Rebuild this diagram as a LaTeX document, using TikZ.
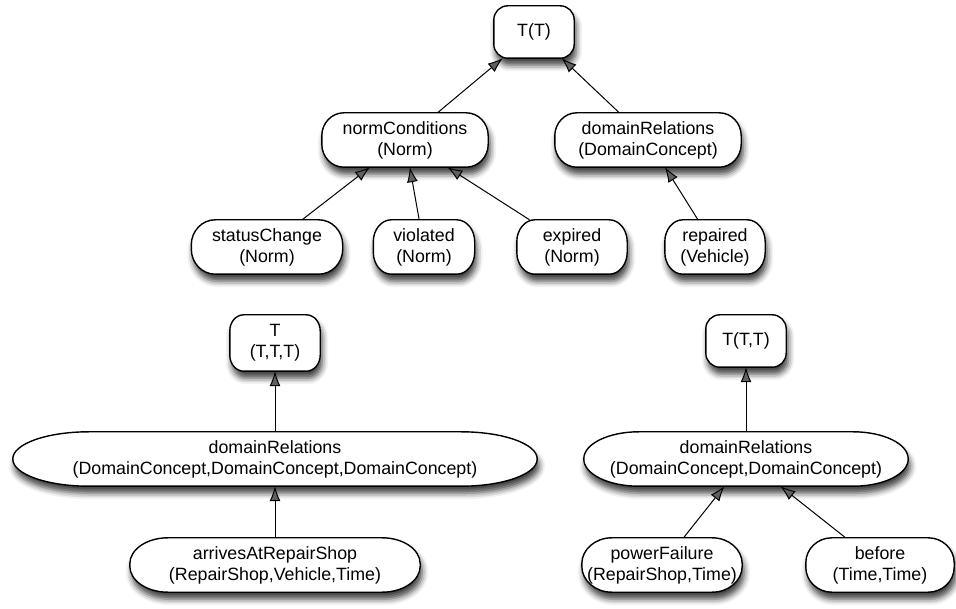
\documentclass[tikz,border=0pt]{standalone}
\usepackage{fontspec}
\setmainfont{Liberation Sans}
\usetikzlibrary{calc,arrows.meta,shadows.blur}
\pgfdeclarelayer{background}
\pgfsetlayers{background,main}
\tikzset{
  term/.style={align=center,inner sep=0pt,minimum height=54pt,
    font=\fontsize{17.8}{21}\selectfont},
  boxline/.style={draw=black,line width=1.4pt,fill=white,
    blur shadow={shadow xshift=2pt,shadow yshift=-7pt,shadow blur radius=6pt,shadow opacity=75}},
  isa/.style={-{Latex[length=15pt,width=11pt]},line width=1pt},
}
% outline with elliptic corners: node, x radius, y radius
\newcommand\drawterm[3]{%
  \path[boxline] ($(#1.north west)+(#2pt,0)$) -- ($(#1.north east)+(-#2pt,0)$)
    arc[start angle=90,end angle=0,x radius=#2pt,y radius=#3pt]
    -- ($(#1.south east)+(0,#3pt)$)
    arc[start angle=0,end angle=-90,x radius=#2pt,y radius=#3pt]
    -- ($(#1.south west)+(#2pt,0)$)
    arc[start angle=270,end angle=180,x radius=#2pt,y radius=#3pt]
    -- ($(#1.north west)+(0,-#3pt)$)
    arc[start angle=180,end angle=90,x radius=#2pt,y radius=#3pt] -- cycle;}

\begin{document}
\begin{tikzpicture}[x=1pt,y=1pt]
\useasboundingbox (0,0) rectangle (956,608);
% upper tree
\node[term,minimum width=80pt,minimum height=52pt] (tt) at (534,576) {T(T)};
\node[term,minimum width=166pt] (normC) at (405,468) {normConditions\\(Norm)};
\node[term,minimum width=186pt] (domR) at (648,468) {domainRelations\\(DomainConcept)};
\node[term,minimum width=151pt] (statusC) at (267,361) {statusChange\\(Norm)};
\node[term,minimum width=101pt] (violated) at (424,361) {violated\\(Norm)};
\node[term,minimum width=110pt] (expired) at (572,361) {expired\\(Norm)};
\node[term,minimum width=100pt] (repaired) at (715,361) {repaired\\(Vehicle)};
% lower left tree
\node[term,minimum width=90pt,minimum height=56pt] (ttt) at (275,265) {T\\(T,T,T)};
\node[term,minimum width=524pt] (bigDR) at (275,149) {domainRelations\\(DomainConcept,DomainConcept,DomainConcept)};
\node[term,minimum width=290pt] (arrives) at (275,43) {arrivesAtRepairShop\\(RepairShop,Vehicle,Time)};
% lower right tree
\node[term,minimum width=80pt,minimum height=52pt] (tt2) at (746,267) {T(T,T)};
\node[term,minimum width=324pt] (dr2) at (746,149) {domainRelations\\(DomainConcept,DomainConcept)};
\node[term,minimum width=160pt] (powerF) at (662,43) {powerFailure\\(RepairShop,Time)};
\node[term,minimum width=148pt] (before) at (880,43) {before\\(Time,Time)};

\begin{pgfonlayer}{background}
\foreach \n/\rx/\ry in {tt/14/14,normC/22/23,domR/22/23,statusC/24/25,
    violated/18/22,expired/18/22,repaired/18/22,ttt/14/16,bigDR/76/27,
    arrives/38/26,tt2/14/14,dr2/55/27,powerF/30/26,before/26/25}
  \drawterm{\n}{\rx}{\ry};
\end{pgfonlayer}

\draw[isa] (normC) -- (tt);
\draw[isa] (domR) -- (tt);
\draw[isa] (statusC) -- (normC);
\draw[isa] (violated) -- (normC);
\draw[isa] (expired) -- (normC);
\draw[isa] (repaired) -- (domR);
\draw[isa] (bigDR) -- (ttt);
\draw[isa] (arrives) -- (bigDR);
\draw[isa] (dr2) -- (tt2);
\draw[isa] (powerF) -- (dr2);
\draw[isa] (before) -- (dr2);
\end{tikzpicture}
\end{document}
